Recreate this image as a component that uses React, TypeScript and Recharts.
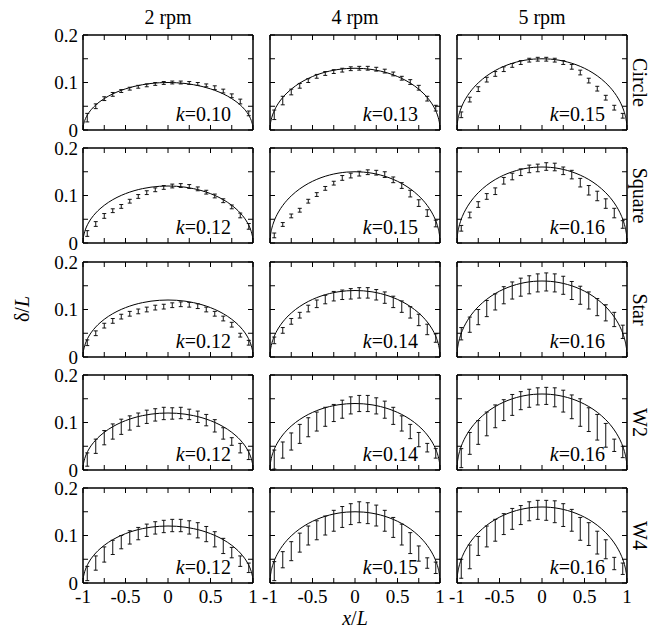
import { ComposedChart, Line, Scatter, ErrorBar, XAxis, YAxis } from "recharts";

// x positions of the measured points (same in every panel)
const pointX = [-0.95, -0.85, -0.75, -0.65, -0.55, -0.45, -0.35, -0.25, -0.15, -0.05, 0.05, 0.15, 0.25, 0.35, 0.45, 0.55, 0.65, 0.75, 0.85, 0.95];

// unit arc used for the fitted curve, scaled by k in each panel
const arcX = [-1, -0.998, -0.99, -0.98, -0.96, -0.93, -0.9, -0.85, -0.8, -0.75, -0.7, -0.6, -0.5, -0.4, -0.3, -0.2, -0.1, 0, 0.1, 0.2, 0.3, 0.4, 0.5, 0.6, 0.7, 0.75, 0.8, 0.85, 0.9, 0.93, 0.96, 0.98, 0.99, 0.998, 1];
const arcProfile = [0, 0.0632, 0.1411, 0.199, 0.28, 0.3676, 0.4359, 0.5268, 0.6, 0.6614, 0.7141, 0.8, 0.866, 0.9165, 0.9539, 0.9798, 0.995, 1, 0.995, 0.9798, 0.9539, 0.9165, 0.866, 0.8, 0.7141, 0.6614, 0.6, 0.5268, 0.4359, 0.3676, 0.28, 0.199, 0.1411, 0.0632, 0];

const speeds = ["2 rpm", "4 rpm", "5 rpm"];
const shapes = ["Circle", "Square", "Star", "W2", "W4"];

// Circle
const circle2Mean = [0.026, 0.05, 0.066, 0.075, 0.082, 0.087, 0.091, 0.094, 0.097, 0.099, 0.1, 0.1, 0.099, 0.097, 0.094, 0.089, 0.082, 0.072, 0.06, 0.035];
const circle2Err = [0.009, 0.005, 0.004, 0.004, 0.003, 0.003, 0.003, 0.003, 0.003, 0.003, 0.003, 0.003, 0.003, 0.003, 0.003, 0.004, 0.004, 0.004, 0.005, 0.005];
const circle4Mean = [0.032, 0.062, 0.08, 0.093, 0.104, 0.113, 0.119, 0.123, 0.126, 0.129, 0.13, 0.13, 0.128, 0.124, 0.118, 0.109, 0.101, 0.089, 0.066, 0.046];
const circle4Err = [0.01, 0.009, 0.006, 0.005, 0.004, 0.004, 0.004, 0.004, 0.004, 0.004, 0.004, 0.004, 0.004, 0.004, 0.004, 0.004, 0.005, 0.005, 0.005, 0.006];
const circle5Mean = [0.032, 0.064, 0.086, 0.106, 0.118, 0.128, 0.136, 0.142, 0.147, 0.149, 0.149, 0.147, 0.142, 0.133, 0.121, 0.104, 0.087, 0.068, 0.047, 0.03];
const circle5Err = [0.006, 0.005, 0.005, 0.005, 0.005, 0.005, 0.004, 0.004, 0.004, 0.004, 0.004, 0.004, 0.004, 0.005, 0.005, 0.005, 0.005, 0.005, 0.005, 0.005];

// Square
const square2Mean = [0.02, 0.04, 0.057, 0.068, 0.077, 0.088, 0.098, 0.106, 0.112, 0.117, 0.12, 0.121, 0.119, 0.114, 0.107, 0.099, 0.089, 0.076, 0.058, 0.035];
const square2Err = [0.006, 0.005, 0.005, 0.004, 0.004, 0.004, 0.004, 0.004, 0.004, 0.004, 0.004, 0.004, 0.004, 0.004, 0.004, 0.004, 0.004, 0.004, 0.005, 0.006];
const square4Mean = [0.016, 0.039, 0.057, 0.069, 0.088, 0.102, 0.115, 0.126, 0.137, 0.142, 0.146, 0.149, 0.148, 0.144, 0.133, 0.121, 0.104, 0.084, 0.063, 0.041];
const square4Err = [0.005, 0.004, 0.004, 0.004, 0.004, 0.004, 0.004, 0.004, 0.005, 0.005, 0.005, 0.005, 0.005, 0.006, 0.006, 0.006, 0.007, 0.007, 0.007, 0.007];
const square5Mean = [0.031, 0.059, 0.081, 0.098, 0.109, 0.131, 0.14, 0.149, 0.156, 0.158, 0.161, 0.16, 0.152, 0.144, 0.127, 0.111, 0.099, 0.083, 0.063, 0.039];
const square5Err = [0.006, 0.006, 0.006, 0.006, 0.007, 0.007, 0.007, 0.007, 0.008, 0.008, 0.008, 0.008, 0.008, 0.009, 0.009, 0.01, 0.01, 0.01, 0.01, 0.008];

// Star
const star2Mean = [0.03, 0.05, 0.066, 0.076, 0.085, 0.091, 0.096, 0.1, 0.104, 0.106, 0.109, 0.111, 0.11, 0.107, 0.1, 0.091, 0.081, 0.068, 0.046, 0.03];
const star2Err = [0.006, 0.005, 0.005, 0.005, 0.005, 0.005, 0.005, 0.005, 0.005, 0.005, 0.005, 0.005, 0.005, 0.005, 0.005, 0.005, 0.005, 0.005, 0.004, 0.005];
const star4Mean = [0.035, 0.056, 0.075, 0.088, 0.102, 0.112, 0.121, 0.128, 0.131, 0.133, 0.135, 0.135, 0.131, 0.125, 0.116, 0.106, 0.094, 0.078, 0.058, 0.04];
const star4Err = [0.007, 0.006, 0.006, 0.006, 0.007, 0.008, 0.009, 0.01, 0.01, 0.011, 0.011, 0.011, 0.011, 0.012, 0.012, 0.012, 0.012, 0.012, 0.011, 0.009];
const star5Mean = [0.049, 0.068, 0.084, 0.102, 0.116, 0.13, 0.14, 0.147, 0.152, 0.156, 0.158, 0.156, 0.151, 0.14, 0.13, 0.119, 0.105, 0.093, 0.079, 0.053];
const star5Err = [0.013, 0.016, 0.016, 0.017, 0.017, 0.018, 0.018, 0.019, 0.019, 0.019, 0.019, 0.019, 0.019, 0.019, 0.019, 0.018, 0.018, 0.017, 0.015, 0.014];

// W2
const w2s2Mean = [0.022, 0.05, 0.068, 0.081, 0.091, 0.099, 0.106, 0.112, 0.116, 0.119, 0.119, 0.12, 0.117, 0.112, 0.105, 0.093, 0.077, 0.06, 0.046, 0.032];
const w2s2Err = [0.014, 0.015, 0.015, 0.016, 0.016, 0.015, 0.014, 0.014, 0.013, 0.013, 0.012, 0.012, 0.011, 0.012, 0.012, 0.013, 0.012, 0.008, 0.01, 0.01];
const w2s4Mean = [0.022, 0.042, 0.06, 0.076, 0.09, 0.102, 0.112, 0.12, 0.128, 0.136, 0.14, 0.14, 0.135, 0.127, 0.114, 0.098, 0.081, 0.064, 0.047, 0.035];
const w2s4Err = [0.02, 0.017, 0.018, 0.02, 0.02, 0.02, 0.02, 0.018, 0.019, 0.018, 0.017, 0.017, 0.017, 0.018, 0.018, 0.016, 0.015, 0.015, 0.009, 0.01];
const w2s5Mean = [0.025, 0.056, 0.079, 0.097, 0.113, 0.126, 0.137, 0.146, 0.151, 0.155, 0.156, 0.153, 0.145, 0.133, 0.121, 0.106, 0.09, 0.073, 0.052, 0.038];
const w2s5Err = [0.02, 0.023, 0.025, 0.025, 0.024, 0.022, 0.022, 0.019, 0.019, 0.018, 0.018, 0.02, 0.023, 0.025, 0.029, 0.025, 0.027, 0.025, 0.013, 0.012];

// W4
const w4s2Mean = [0.02, 0.042, 0.06, 0.075, 0.086, 0.096, 0.104, 0.111, 0.116, 0.119, 0.121, 0.121, 0.117, 0.111, 0.103, 0.092, 0.078, 0.064, 0.046, 0.032];
const w4s2Err = [0.015, 0.015, 0.016, 0.015, 0.014, 0.014, 0.013, 0.013, 0.013, 0.013, 0.013, 0.013, 0.014, 0.016, 0.016, 0.016, 0.016, 0.011, 0.011, 0.01];
const w4s4Mean = [0.025, 0.049, 0.067, 0.085, 0.1, 0.111, 0.121, 0.131, 0.139, 0.145, 0.149, 0.147, 0.142, 0.131, 0.117, 0.102, 0.084, 0.062, 0.042, 0.032];
const w4s4Err = [0.02, 0.017, 0.02, 0.02, 0.02, 0.02, 0.02, 0.022, 0.022, 0.022, 0.022, 0.022, 0.022, 0.022, 0.021, 0.022, 0.022, 0.016, 0.011, 0.012];
const w4s5Mean = [0.03, 0.055, 0.078, 0.098, 0.111, 0.124, 0.135, 0.143, 0.151, 0.154, 0.153, 0.15, 0.143, 0.132, 0.114, 0.103, 0.085, 0.071, 0.041, 0.03];
const w4s5Err = [0.02, 0.025, 0.02, 0.022, 0.023, 0.022, 0.022, 0.02, 0.02, 0.02, 0.021, 0.023, 0.024, 0.023, 0.024, 0.024, 0.024, 0.02, 0.013, 0.012];

// fitted k per row (2, 4, 5 rpm)
const kValues = [
  [0.1, 0.13, 0.15],
  [0.12, 0.15, 0.16],
  [0.12, 0.14, 0.16],
  [0.12, 0.14, 0.16],
  [0.12, 0.15, 0.16],
];
const kLabels = [
  ["0.10", "0.13", "0.15"],
  ["0.12", "0.15", "0.16"],
  ["0.12", "0.14", "0.16"],
  ["0.12", "0.14", "0.16"],
  ["0.12", "0.15", "0.16"],
];

const means = [
  [circle2Mean, circle4Mean, circle5Mean],
  [square2Mean, square4Mean, square5Mean],
  [star2Mean, star4Mean, star5Mean],
  [w2s2Mean, w2s4Mean, w2s5Mean],
  [w4s2Mean, w4s4Mean, w4s5Mean],
];
const errs = [
  [circle2Err, circle4Err, circle5Err],
  [square2Err, square4Err, square5Err],
  [star2Err, star4Err, star5Err],
  [w2s2Err, w2s4Err, w2s5Err],
  [w4s2Err, w4s4Err, w4s5Err],
];

const xTicks = [-1, -0.75, -0.5, -0.25, 0, 0.25, 0.5, 0.75, 1];
const xLabeled = [-1, -0.5, 0, 0.5, 1];
const yTicks = [0, 0.05, 0.1, 0.15, 0.2];
const yLabeled = [0, 0.1, 0.2];

const FONT = "'Liberation Serif', 'Times New Roman', serif";
const COL_LEFT = [83, 270, 457];
const ROW_TOP = [35, 148, 262, 375, 488];
const PW = 170;
const PH = 95;
const ML = 45;
const MR = 8;
const MT = 14;
const MB = 30;
const TICK = 5;

const noShape = () => <g />;

const bottomTick = (showLabel: boolean) => (props: any) => {
  const { x, y, payload } = props;
  return (
    <g>
      <line x1={x} y1={y} x2={x} y2={y - TICK} stroke="#000" strokeWidth={1} />
      {showLabel && xLabeled.includes(payload.value) && (
        <text x={x} y={y + 20} textAnchor="middle" fontSize={19} fontFamily={FONT} fill="#000">
          {String(payload.value)}
        </text>
      )}
    </g>
  );
};

const topTick = (props: any) => {
  const { x, y } = props;
  return <line x1={x} y1={y} x2={x} y2={y + TICK} stroke="#000" strokeWidth={1} />;
};

const leftTick = (showLabel: boolean) => (props: any) => {
  const { x, y, payload } = props;
  return (
    <g>
      <line x1={x} y1={y} x2={x + TICK} y2={y} stroke="#000" strokeWidth={1} />
      {showLabel && yLabeled.includes(payload.value) && (
        <text x={x - 5} y={y + 6.5} textAnchor="end" fontSize={19} fontFamily={FONT} fill="#000">
          {String(payload.value)}
        </text>
      )}
    </g>
  );
};

const rightTick = (props: any) => {
  const { x, y } = props;
  return <line x1={x} y1={y} x2={x - TICK} y2={y} stroke="#000" strokeWidth={1} />;
};

const Panel = ({ row, col }: { row: number; col: number }) => {
  const k = kValues[row][col];
  const curve = arcX.map((x, i) => ({ x, y: arcProfile[i] * k }));
  const points = pointX.map((x, i) => ({ x, y: means[row][col][i], e: errs[row][col][i] }));
  const frame = { stroke: "#000", strokeWidth: 1.5 };
  // each axis takes 1px of room, so the margins are one pixel smaller
  return (
    <div style={{ position: "absolute", left: COL_LEFT[col] - ML, top: ROW_TOP[row] - MT }}>
      <ComposedChart width={PW + ML + MR} height={PH + MT + MB}
        margin={{ top: MT - 1, right: MR - 1, bottom: MB - 1, left: ML - 1 }}>
        <XAxis xAxisId="b" dataKey="x" type="number" domain={[-1, 1]} ticks={xTicks} interval={0}
          orientation="bottom" height={1} tickSize={0} tickMargin={0} tickLine={false}
          axisLine={frame} tick={bottomTick(row === 4)} allowDataOverflow />
        <XAxis xAxisId="t" dataKey="x" type="number" domain={[-1, 1]} ticks={xTicks} interval={0}
          orientation="top" height={1} tickSize={0} tickMargin={0} tickLine={false}
          axisLine={frame} tick={topTick} allowDataOverflow />
        <YAxis yAxisId="l" type="number" domain={[0, 0.2]} ticks={yTicks} interval={0}
          orientation="left" width={1} tickSize={0} tickMargin={0} tickLine={false}
          axisLine={frame} tick={leftTick(col === 0)} allowDataOverflow />
        <YAxis yAxisId="r" type="number" domain={[0, 0.2]} ticks={yTicks} interval={0}
          orientation="right" width={1} tickSize={0} tickMargin={0} tickLine={false}
          axisLine={frame} tick={rightTick} allowDataOverflow />
        <Line xAxisId="b" yAxisId="l" data={curve} dataKey="y" type="monotone" stroke="#000"
          strokeWidth={1} dot={false} isAnimationActive={false} />
        <Scatter xAxisId="b" yAxisId="l" data={points} dataKey="y" shape={noShape} isAnimationActive={false}>
          <ErrorBar dataKey="e" direction="y" width={2} stroke="#111" strokeWidth={1} isAnimationActive={false} />
        </Scatter>
      </ComposedChart>
    </div>
  );
};

export default function App() {
  const rows = [0, 1, 2, 3, 4];
  const cols = [0, 1, 2];
  const midY = (ROW_TOP[0] + ROW_TOP[4] + PH) / 2;
  return (
    <div style={{ position: "absolute", left: 0, top: 0, width: 659, height: 629, background: "#fff", fontFamily: FONT }}>
      {rows.map((r) => cols.map((c) => <Panel key={`${r}-${c}`} row={r} col={c} />))}
      <svg width={659} height={629} style={{ position: "absolute", left: 0, top: 0, pointerEvents: "none" }}>
        <g fontFamily={FONT} fill="#000">
          {speeds.map((s, c) => (
            <text key={s} x={COL_LEFT[c] + PW / 2} y={24} textAnchor="middle" fontSize={20}>{s}</text>
          ))}
          {shapes.map((s, r) => {
            const cx = 640;
            const cy = ROW_TOP[r] + PH / 2;
            return (
              <text key={s} x={cx} y={cy} textAnchor="middle" dominantBaseline="central" fontSize={20}
                transform={`rotate(90 ${cx} ${cy})`}>{s}</text>
            );
          })}
          {rows.map((r) => cols.map((c) => (
            <text key={`k${r}${c}`} x={COL_LEFT[c] + PW - 22} y={ROW_TOP[r] + PH - 9} textAnchor="end" fontSize={20}>
              <tspan fontStyle="italic">k</tspan>={kLabels[r][c]}
            </text>
          )))}
          <text x={22} y={midY} textAnchor="middle" dominantBaseline="central" fontSize={20}
            transform={`rotate(-90 22 ${midY})`}>
            δ/<tspan fontStyle="italic">L</tspan>
          </text>
          <text x={355} y={625} textAnchor="middle" fontSize={20}>
            <tspan fontStyle="italic">x</tspan>/<tspan fontStyle="italic">L</tspan>
          </text>
        </g>
      </svg>
    </div>
  );
}
